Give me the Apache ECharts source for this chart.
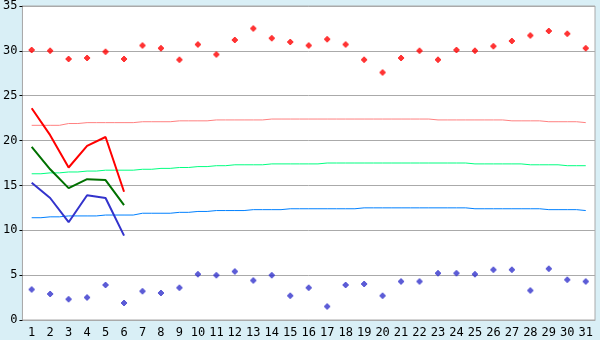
<!DOCTYPE html>
<html><head><meta charset="utf-8">
<script src="https://cdn.jsdelivr.net/npm/echarts@6/dist/echarts.min.js"></script>
<style>html,body{margin:0;padding:0;background:#d9eff6;}#c{width:600px;height:340px;}</style>
</head><body><div id="c"></div>
<script>
const days = Array.from({length:31},(_,i)=>String(i+1));
const yTicks = {min:0, max:35, interval:5};
const maxObs = [23.6,20.6,17.0,19.4,20.4,14.3];
const meanObs = [19.3,16.8,14.7,15.7,15.6,12.8];
const minObs = [15.3,13.6,10.9,13.9,13.6,9.4];
const recordMax = [30.1,30.0,29.1,29.2,29.9,29.1,30.6,30.3,29.0,30.7,29.6,31.2,32.5,31.4,31.0,30.6,31.3,30.7,29.0,27.6,29.2,30.0,29.0,30.1,30.0,30.5,31.1,31.7,32.2,31.9,30.3];
const recordMin = [3.4,2.9,2.3,2.5,3.9,1.9,3.2,3.0,3.6,5.1,5.0,5.4,4.4,5.0,2.7,3.6,1.5,3.9,4.0,2.7,4.3,4.3,5.2,5.2,5.1,5.6,5.6,3.3,5.7,4.5,4.3];
const normalMax = [21.7,21.7,21.9,22.0,22.0,22.0,22.1,22.1,22.2,22.2,22.3,22.3,22.3,22.4,22.4,22.4,22.4,22.4,22.4,22.4,22.4,22.4,22.3,22.3,22.3,22.3,22.2,22.2,22.1,22.1,22.0];
const normalMean = [16.3,16.4,16.5,16.6,16.7,16.7,16.8,16.9,17.0,17.1,17.2,17.3,17.3,17.4,17.4,17.4,17.5,17.5,17.5,17.5,17.5,17.5,17.5,17.5,17.4,17.4,17.4,17.3,17.3,17.2,17.2];
const normalMin = [11.4,11.5,11.6,11.6,11.7,11.7,11.9,11.9,12.0,12.1,12.2,12.2,12.3,12.3,12.4,12.4,12.4,12.4,12.5,12.5,12.5,12.5,12.5,12.5,12.4,12.4,12.4,12.4,12.3,12.3,12.2];

const marker = 'path://M2,0H4V1H5V2H6V4H5V5H4V6H2V5H1V4H0V2H1V1H2Z';
const font = {fontFamily:'DejaVu Sans Mono', fontSize:12, color:'#000'};
const chart = echarts.init(document.getElementById('c'), null, {renderer:'canvas'});
function normal(data,color){return {type:'line',data,step:'middle',showSymbol:false,silent:true,lineStyle:{color,width:1},itemStyle:{color},z:2};}
function obs(data,color){return {type:'line',data,showSymbol:false,silent:true,lineStyle:{color,width:2},itemStyle:{color},z:3};}
function pts(data,color){return {type:'scatter',data,symbol:marker,symbolSize:6,silent:true,itemStyle:{color},z:4};}
chart.setOption({
  animation:false,
  backgroundColor:'#d9eff6',
  grid:{left:20,right:5,top:5,bottom:20,show:true,backgroundColor:'#fff',borderColor:'#aaa',borderWidth:1},
  xAxis:{type:'category',data:days,boundaryGap:true,
    axisLine:{lineStyle:{color:'#aaa'}},
    axisTick:{alignWithLabel:true,length:4,lineStyle:{color:'#000'}},
    axisLabel:Object.assign({margin:7,interval:0},font),
    splitLine:{show:false}},
  yAxis:{type:'value',min:yTicks.min,max:yTicks.max,interval:yTicks.interval,
    axisLine:{show:true,lineStyle:{color:'#aaa'}},
    axisTick:{show:true,length:3,lineStyle:{color:'#000'}},
    axisLabel:Object.assign({margin:5},font),
    splitLine:{lineStyle:{color:'#aaa',width:1}}},
  series:[
    normal(normalMax,'#ff8080'),
    normal(normalMean,'#00ff80'),
    normal(normalMin,'#0080ff'),
    obs(maxObs,'#ff0000'),
    obs(meanObs,'#007000'),
    obs(minObs,'#3333cc'),
    pts(recordMax,'#ff0000'),
    pts(recordMin,'#3333cc')
  ]
});
</script></body></html>
